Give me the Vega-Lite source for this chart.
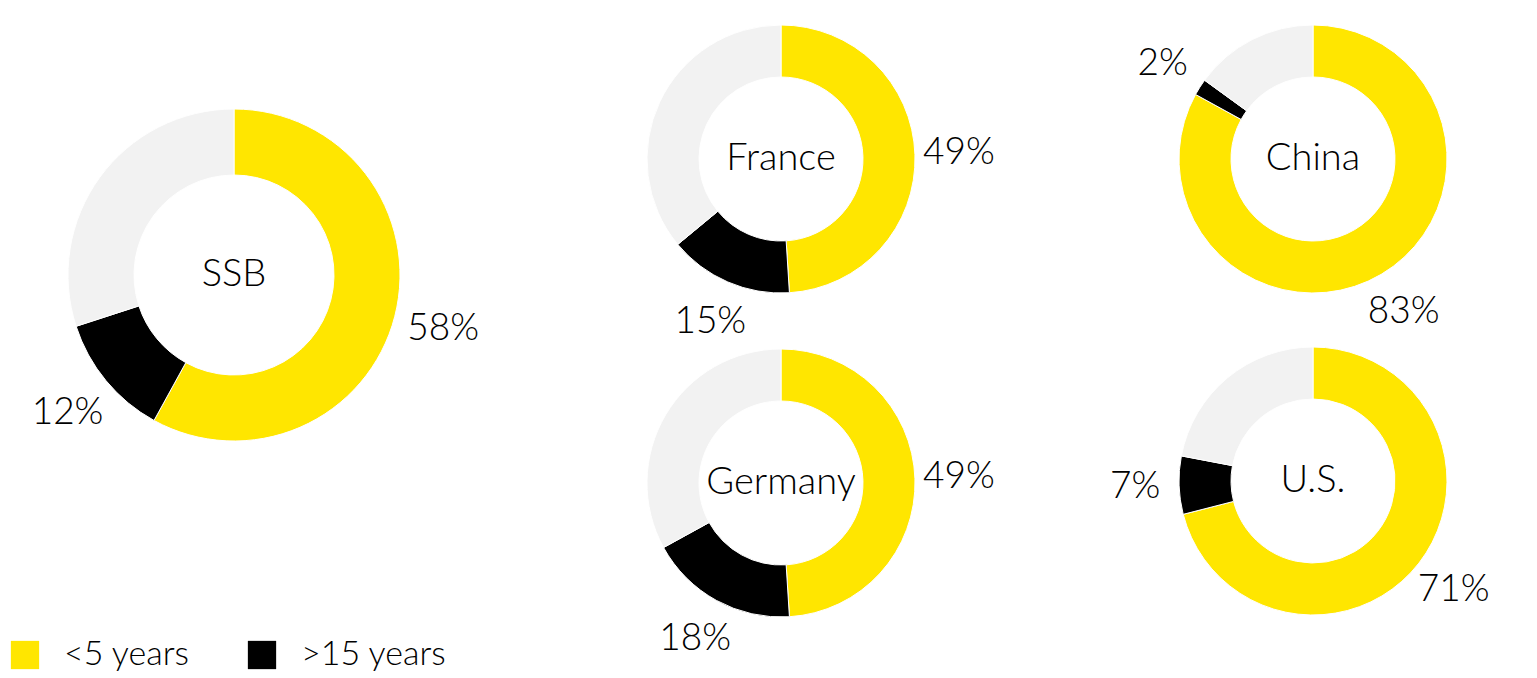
{
  "$schema": "https://vega.github.io/schema/vega-lite/v6.json",
  "padding": 0,
  "background": "#ffffff",
  "config": {
    "view": {"stroke": null},
    "font": "Lato",
    "text": {"font": "Lato", "fontSize": 37, "fontWeight": 300, "color": "#000000", "baseline": "middle", "align": "center"}
  },
  "data": {
    "values": [
      {"country": "SSB", "group": "<5 years", "rank": 1, "share": 0.58},
      {"country": "SSB", "group": ">15 years", "rank": 2, "share": 0.12},
      {"country": "SSB", "group": "5-15 years", "rank": 3, "share": 0.30},
      {"country": "France", "group": "<5 years", "rank": 1, "share": 0.49},
      {"country": "France", "group": ">15 years", "rank": 2, "share": 0.15},
      {"country": "France", "group": "5-15 years", "rank": 3, "share": 0.36},
      {"country": "Germany", "group": "<5 years", "rank": 1, "share": 0.49},
      {"country": "Germany", "group": ">15 years", "rank": 2, "share": 0.18},
      {"country": "Germany", "group": "5-15 years", "rank": 3, "share": 0.33},
      {"country": "China", "group": "<5 years", "rank": 1, "share": 0.83},
      {"country": "China", "group": ">15 years", "rank": 2, "share": 0.02},
      {"country": "China", "group": "5-15 years", "rank": 3, "share": 0.15},
      {"country": "U.S.", "group": "<5 years", "rank": 1, "share": 0.71},
      {"country": "U.S.", "group": ">15 years", "rank": 2, "share": 0.07},
      {"country": "U.S.", "group": "5-15 years", "rank": 3, "share": 0.22}
    ]
  },
  "spacing": 98,
  "hconcat": [
    {
      "spacing": 151,
      "hconcat": [
        {
          "width": 468, "height": 550,
          "transform": [{"filter": "datum.country === 'SSB'"}],
          "layer": [
            {
              "mark": {"type": "arc", "outerRadius": 166, "innerRadius": 100, "stroke": "#ffffff", "strokeWidth": 1},
              "encoding": {
                "theta": {"field": "share", "type": "quantitative", "stack": true},
                "order": {"field": "rank", "type": "quantitative"},
                "color": {"field": "group", "type": "nominal",
                  "scale": {"domain": ["<5 years", ">15 years", "5-15 years"], "range": ["#FFE600", "#000000", "#F2F2F2"]},
                  "legend": {"title": null, "orient": "none", "legendX": 8, "legendY": 638, "direction": "horizontal", "values": ["<5 years", ">15 years"], "symbolType": "square", "symbolSize": 800, "symbolStrokeWidth": 0, "labelFontSize": 34, "labelFont": "Lato", "labelFontWeight": 300, "labelColor": "#000000", "labelOffset": 22, "columnPadding": 55}
                }
              }
            },
            {
              "transform": [{"filter": "datum.rank < 3"}],
              "mark": {"type": "text", "radius": 216},
              "encoding": {
                "theta": {"field": "share", "type": "quantitative", "stack": true},
                "order": {"field": "rank", "type": "quantitative"},
                "text": {"field": "share", "type": "quantitative", "format": ".0%"}
              }
            },
            {
              "transform": [{"filter": "datum.rank === 1"}],
              "mark": {"type": "text", "fontSize": 38},
              "encoding": {"text": {"field": "country", "type": "nominal"}}
            }
          ]
        },
        {
          "bounds": "flush",
          "spacing": 6,
          "vconcat": [
            {
              "width": 300, "height": 318,
              "transform": [{"filter": "datum.country === 'France'"}],
              "layer": [
                {
                  "mark": {"type": "arc", "outerRadius": 134, "innerRadius": 82, "stroke": "#ffffff", "strokeWidth": 1},
                  "encoding": {
                    "theta": {"field": "share", "type": "quantitative", "stack": true},
                    "order": {"field": "rank", "type": "quantitative"},
                    "color": {"field": "group", "type": "nominal",
                      "scale": {"domain": ["<5 years", ">15 years", "5-15 years"], "range": ["#FFE600", "#000000", "#F2F2F2"]},
                      "legend": {"title": null, "orient": "none", "legendX": 8, "legendY": 638, "direction": "horizontal", "values": ["<5 years", ">15 years"], "symbolType": "square", "symbolSize": 800, "symbolStrokeWidth": 0, "labelFontSize": 34, "labelFont": "Lato", "labelFontWeight": 300, "labelColor": "#000000", "labelOffset": 22, "columnPadding": 55}
                    }
                  }
                },
                {
                  "transform": [{"filter": "datum.rank < 3"}],
                  "mark": {"type": "text", "radius": 178},
                  "encoding": {
                    "theta": {"field": "share", "type": "quantitative", "stack": true},
                    "order": {"field": "rank", "type": "quantitative"},
                    "text": {"field": "share", "type": "quantitative", "format": ".0%"}
                  }
                },
                {
                  "transform": [{"filter": "datum.rank === 1"}],
                  "mark": {"type": "text", "fontSize": 38},
                  "encoding": {"text": {"field": "country", "type": "nominal"}}
                }
              ]
            },
            {
              "width": 300, "height": 318,
              "transform": [{"filter": "datum.country === 'Germany'"}],
              "layer": [
                {
                  "mark": {"type": "arc", "outerRadius": 134, "innerRadius": 82, "stroke": "#ffffff", "strokeWidth": 1},
                  "encoding": {
                    "theta": {"field": "share", "type": "quantitative", "stack": true},
                    "order": {"field": "rank", "type": "quantitative"},
                    "color": {"field": "group", "type": "nominal",
                      "scale": {"domain": ["<5 years", ">15 years", "5-15 years"], "range": ["#FFE600", "#000000", "#F2F2F2"]},
                      "legend": {"title": null, "orient": "none", "legendX": 8, "legendY": 638, "direction": "horizontal", "values": ["<5 years", ">15 years"], "symbolType": "square", "symbolSize": 800, "symbolStrokeWidth": 0, "labelFontSize": 34, "labelFont": "Lato", "labelFontWeight": 300, "labelColor": "#000000", "labelOffset": 22, "columnPadding": 55}
                    }
                  }
                },
                {
                  "transform": [{"filter": "datum.rank < 3"}],
                  "mark": {"type": "text", "radius": 178},
                  "encoding": {
                    "theta": {"field": "share", "type": "quantitative", "stack": true},
                    "order": {"field": "rank", "type": "quantitative"},
                    "text": {"field": "share", "type": "quantitative", "format": ".0%"}
                  }
                },
                {
                  "transform": [{"filter": "datum.rank === 1"}],
                  "mark": {"type": "text", "fontSize": 38},
                  "encoding": {"text": {"field": "country", "type": "nominal"}}
                }
              ]
            }
          ]
        }
      ]
    },
    {
      "bounds": "flush",
      "spacing": 4,
      "vconcat": [
        {
          "width": 440, "height": 318,
          "transform": [{"filter": "datum.country === 'China'"}],
          "layer": [
            {
              "mark": {"type": "arc", "outerRadius": 134, "innerRadius": 82, "stroke": "#ffffff", "strokeWidth": 1},
              "encoding": {
                "theta": {"field": "share", "type": "quantitative", "stack": true},
                "order": {"field": "rank", "type": "quantitative"},
                "color": {"field": "group", "type": "nominal",
                  "scale": {"domain": ["<5 years", ">15 years", "5-15 years"], "range": ["#FFE600", "#000000", "#F2F2F2"]},
                  "legend": {"title": null, "orient": "none", "legendX": 8, "legendY": 638, "direction": "horizontal", "values": ["<5 years", ">15 years"], "symbolType": "square", "symbolSize": 800, "symbolStrokeWidth": 0, "labelFontSize": 34, "labelFont": "Lato", "labelFontWeight": 300, "labelColor": "#000000", "labelOffset": 22, "columnPadding": 55}
                }
              }
            },
            {
              "transform": [{"filter": "datum.rank < 3"}],
              "mark": {"type": "text", "radius": 178},
              "encoding": {
                "theta": {"field": "share", "type": "quantitative", "stack": true},
                "order": {"field": "rank", "type": "quantitative"},
                "text": {"field": "share", "type": "quantitative", "format": ".0%"}
              }
            },
            {
              "transform": [{"filter": "datum.rank === 1"}],
              "mark": {"type": "text", "fontSize": 38},
              "encoding": {"text": {"field": "country", "type": "nominal"}}
            }
          ]
        },
        {
          "width": 440, "height": 318,
          "transform": [{"filter": "datum.country === 'U.S.'"}],
          "layer": [
            {
              "mark": {"type": "arc", "outerRadius": 134, "innerRadius": 82, "stroke": "#ffffff", "strokeWidth": 1},
              "encoding": {
                "theta": {"field": "share", "type": "quantitative", "stack": true},
                "order": {"field": "rank", "type": "quantitative"},
                "color": {"field": "group", "type": "nominal",
                  "scale": {"domain": ["<5 years", ">15 years", "5-15 years"], "range": ["#FFE600", "#000000", "#F2F2F2"]},
                  "legend": {"title": null, "orient": "none", "legendX": 8, "legendY": 638, "direction": "horizontal", "values": ["<5 years", ">15 years"], "symbolType": "square", "symbolSize": 800, "symbolStrokeWidth": 0, "labelFontSize": 34, "labelFont": "Lato", "labelFontWeight": 300, "labelColor": "#000000", "labelOffset": 22, "columnPadding": 55}
                }
              }
            },
            {
              "transform": [{"filter": "datum.rank < 3"}],
              "mark": {"type": "text", "radius": 178},
              "encoding": {
                "theta": {"field": "share", "type": "quantitative", "stack": true},
                "order": {"field": "rank", "type": "quantitative"},
                "text": {"field": "share", "type": "quantitative", "format": ".0%"}
              }
            },
            {
              "transform": [{"filter": "datum.rank === 1"}],
              "mark": {"type": "text", "fontSize": 38},
              "encoding": {"text": {"field": "country", "type": "nominal"}}
            }
          ]
        }
      ]
    }
  ]
}
